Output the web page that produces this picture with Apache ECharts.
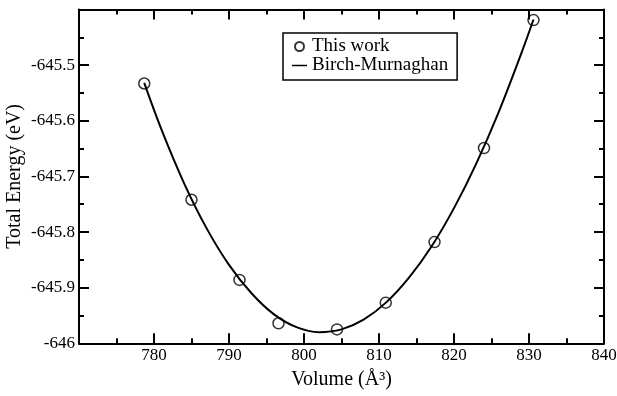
<!DOCTYPE html>
<html>
<head>
<meta charset="utf-8">
<script src="https://cdn.jsdelivr.net/npm/echarts@6/dist/echarts.min.js"></script>
<style>html,body{margin:0;padding:0;background:#fff}#c{width:617px;height:396px}</style>
</head>
<body>
<div id="c"></div>
<script>
// Data
const volumes = [778.7, 785.0, 791.4, 796.6, 804.4, 810.9, 817.4, 824.0, 830.6];
const energies = [-645.533, -645.742, -645.886, -645.964, -645.975, -645.927, -645.818, -645.649, -645.419];
const fitVolumes = [778.7, 781, 784, 787, 790, 793, 796, 799, 802, 805, 808, 811, 814, 817, 820, 823, 826, 829, 830.6];
const fitEnergies = [-645.532, -645.616, -645.712, -645.793, -645.859, -645.910, -645.948, -645.971, -645.980, -645.975, -645.957, -645.926, -645.882, -645.826, -645.757, -645.676, -645.583, -645.478, -645.418];
const xMin = 770, xMax = 840, xStep = 10;
const yMin = -646, yMax = -645.4, yStep = 0.1;

const font = 'Liberation Serif';
const chart = echarts.init(document.getElementById('c'));
const axisBase = {
  axisLine: {show: true, lineStyle: {color: '#000', width: 2}},
  axisTick: {show: true, inside: true, length: 10, lineStyle: {color: '#000', width: 2}},
  minorTick: {show: true, splitNumber: 2, length: 5, lineStyle: {color: '#000', width: 2}},
  splitLine: {show: false},
  minorSplitLine: {show: false}
};
chart.setOption({
  animation: false,
  backgroundColor: '#fff',
  grid: {left: 79, right: 13, top: 9.5, bottom: 52.7, show: false, containLabel: false, outerBoundsMode: 'none'},
  legend: {
    orient: 'vertical',
    left: 283, top: 33,
    width: 178,
    padding: [4, 9, 5, 9],
    itemGap: 0,
    itemWidth: 15, itemHeight: 9,
    borderColor: '#000', borderWidth: 1.5,
    textStyle: {fontFamily: font, fontSize: 19, color: '#000', lineHeight: 19},
    data: [
      {name: 'This work'},
      {name: 'Birch-Murnaghan', icon: 'path://M0 0 H15 V1.5 H0 Z', itemStyle: {color: '#000'}}
    ]
  },
  xAxis: [
    Object.assign({
      type: 'value', position: 'bottom', min: xMin, max: xMax, interval: xStep,
      name: 'Volume (Å³)', nameLocation: 'middle', nameGap: 26, nameMoveOverlap: false,
      nameTextStyle: {fontFamily: font, fontSize: 20, color: '#000'},
      axisLabel: {fontFamily: font, fontSize: 17, color: '#000', margin: 4, showMinLabel: false}
    }, axisBase),
    Object.assign({
      type: 'value', position: 'top', min: xMin, max: xMax, interval: xStep,
      axisLabel: {show: false}
    }, axisBase)
  ],
  yAxis: [
    Object.assign({
      type: 'value', position: 'left', min: yMin, max: yMax, interval: yStep,
      name: 'Total Energy (eV)', nameLocation: 'middle', nameGap: 54, nameMoveOverlap: false,
      nameTextStyle: {fontFamily: font, fontSize: 20, color: '#000'},
      axisLabel: {fontFamily: font, fontSize: 17, color: '#000', margin: 4, showMaxLabel: false,
        formatter: v => String(Math.round(v * 10) / 10)}
    }, axisBase),
    Object.assign({
      type: 'value', position: 'right', min: yMin, max: yMax, interval: yStep,
      axisLabel: {show: false}
    }, axisBase)
  ],
  series: [
    {
      name: 'Birch-Murnaghan', type: 'line', smooth: 0.35, symbol: 'none',
      xAxisIndex: 0, yAxisIndex: 0,
      lineStyle: {color: '#000', width: 2},
      itemStyle: {color: '#000'},
      data: fitVolumes.map((v, i) => [v, fitEnergies[i]]),
      z: 2
    },
    {
      name: 'This work', type: 'scatter', symbol: 'circle', symbolSize: 11,
      xAxisIndex: 0, yAxisIndex: 0,
      itemStyle: {color: 'rgba(0,0,0,0)', borderColor: '#000', borderWidth: 1.5},
      data: volumes.map((v, i) => [v, energies[i]]),
      z: 3
    }
  ]
});
</script>
</body>
</html>
